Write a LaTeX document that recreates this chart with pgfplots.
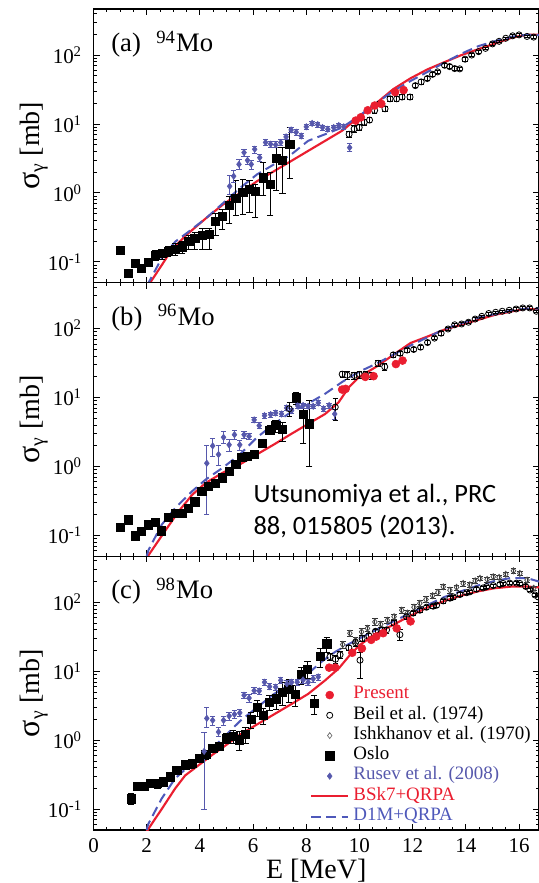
\documentclass[border=0pt]{standalone}
\usepackage{fontspec}
\setmainfont{Liberation Serif}
\newfontfamily\calibri{Carlito}
\usepackage{pgfplots}
\pgfplotsset{compat=1.18}

\definecolor{bskred}{RGB}{234,30,48}
\definecolor{rusblue}{RGB}{86,88,172}
\definecolor{dmblue}{RGB}{78,88,186}

\pgfplotsset{
  every axis/.append style={
    scale only axis, width=334.125pt, height=205.25pt,
    xmin=0, xmax=16.75, ymin=0.05, ymax=465,
    xtick={0,2,...,16}, minor x tick num=3,
    ytick={0.1,1,10,100},
    yticklabels={10\textsuperscript{-1},10\textsuperscript{0},10\textsuperscript{1},10\textsuperscript{2}},
    minor ytick={0.06,0.07,0.08,0.09,0.2,0.3,0.4,0.5,0.6,0.7,0.8,0.9,2,3,4,5,6,7,8,9,20,30,40,50,60,70,80,90,200,300,400},
    tick align=inside, major tick length=4.5pt, minor tick length=2.5pt,
    tick style={black, line width=0.7pt},
    axis line style={line width=0.9pt},
    tick label style={font=\fontsize{15.75}{18}\selectfont},
    yticklabel style={inner sep=0pt, anchor=east, xshift=-8.6pt},
    ylabel style={at={(axis description cs:0,0.5)}, anchor=base, yshift=40.5pt, font=\fontsize{21}{24}\selectfont},
  },
  osloplot/.style={only marks, mark=square*, mark size=3.1pt, black,
    error bars/y dir=both, error bars/y explicit,
    error bars/error bar style={line width=0.7pt, black},
    error bars/error mark options={rotate=90, mark size=2.4pt, line width=0.7pt, black}},
  rusevplot/.style={only marks, mark=diamond*, mark size=2.4pt, rusblue,
    error bars/y dir=both, error bars/y explicit,
    error bars/error bar style={line width=0.6pt, rusblue},
    error bars/error mark options={rotate=90, mark size=2pt, line width=0.6pt, rusblue}},
  beilplot/.style={only marks, mark=o, mark size=2.3pt, black, mark options={line width=0.6pt, fill=white},
    error bars/y dir=both, error bars/y explicit,
    error bars/error bar style={line width=0.6pt, black},
    error bars/error mark options={rotate=90, mark size=2pt, line width=0.6pt, black}},
  ishkplot/.style={only marks, mark=diamond, mark size=2.3pt, black!70, mark options={line width=0.6pt, fill=white},
    error bars/y dir=both, error bars/y explicit,
    error bars/error bar style={line width=0.6pt, black!80},
    error bars/error mark options={rotate=90, mark size=2.2pt, line width=0.6pt, black!80}},
  presentplot/.style={only marks, mark=*, mark size=3pt, bskred},
  bskplot/.style={bskred, line width=1.6pt, no marks},
  dmplot/.style={dmblue, line width=1.5pt, dash pattern=on 7.5pt off 4pt, no marks},
}

\begin{document}
\begin{tikzpicture}

% ---------------- (a) 94Mo ----------------
\begin{semilogyaxis}[at={(70.125pt,450.25pt)}, anchor=south west, xticklabels={},
  ylabel={{\fontsize{24}{24}\selectfont σ}\textsubscript{γ} [mb]}]
\addplot[bskplot] coordinates {(2.00,0.045) (2.13,0.050) (2.56,0.089) (2.94,0.150) (3.46,0.240) (4.23,0.43) (4.87,0.68) (5.51,1.0) (6.15,1.48) (6.79,2.07) (7.43,2.9) (8.07,4.07) (8.71,5.7) (9.35,8.0) (10.0,12.8) (10.63,20) (11.27,32) (11.92,46) (12.56,62) (13.20,79) (13.84,100) (14.48,122) (15.12,148) (15.76,180) (16.27,196) (16.75,198)};
\addplot[dmplot] coordinates {(2.00,0.045) (2.07,0.05) (2.56,0.112) (3.07,0.196) (3.58,0.275) (4.23,0.43) (4.87,0.71) (5.51,1.18) (6.15,1.86) (6.79,2.6) (7.43,3.6) (8.07,5.7) (8.71,7.1) (9.35,8.9) (10.0,13.2) (10.63,20) (11.27,30) (11.92,42) (12.56,57) (13.2,78) (13.84,105) (14.48,135) (15.12,160) (15.76,185) (16.27,196) (16.75,195)};
\addplot[osloplot] table[x=x, y=y, y error plus=ep, y error minus=em] {
x y ep em
1.02 0.148 0.012 0.012
1.30 0.068 0.006 0.006
1.56 0.095 0.008 0.008
1.79 0.080 0.010 0.010
2.07 0.100 0.012 0.012
2.33 0.125 0.020 0.020
2.58 0.132 0.022 0.022
2.81 0.143 0.025 0.025
3.07 0.154 0.030 0.030
3.33 0.166 0.035 0.035
3.58 0.200 0.045 0.050
3.81 0.220 0.050 0.070
4.10 0.245 0.060 0.095
4.35 0.250 0.060 0.100
4.58 0.390 0.120 0.150
4.84 0.455 0.120 0.160
5.10 0.66 0.22 0.30
5.35 0.83 0.70 0.36
5.61 1.03 0.55 0.55
5.86 1.12 0.40 0.60
6.08 1.06 0.25 0.62
6.38 1.66 1.10 0.75
6.64 1.32 0.65 0.85
6.87 3.18 1.40 2.10
7.11 2.97 1.60 2.00
7.38 5.10 3.70 3.50
};
\addplot[rusevplot] table[x=x, y=y, y error plus=ep, y error minus=em] {
x y ep em
5.12 1.25 0.55 0.30
5.27 1.75 0.40 0.35
5.47 2.60 0.45 0.40
5.66 3.85 0.50 0.50
5.79 2.97 0.40 0.40
5.93 2.60 0.40 0.40
6.06 4.30 0.50 0.50
6.25 3.25 0.40 0.40
6.47 5.40 0.50 0.50
6.66 5.10 0.50 0.50
6.85 5.00 0.50 0.50
7.04 5.40 0.50 0.50
7.24 6.50 0.60 0.60
7.43 8.20 0.70 0.70
7.62 7.60 0.70 0.70
7.81 6.70 0.60 0.60
8.00 9.10 0.80 0.80
8.22 10.2 0.80 0.80
8.43 9.80 0.80 0.80
8.61 8.90 0.70 0.70
8.81 8.40 0.70 0.70
9.03 8.90 0.70 0.70
9.22 9.50 0.70 0.70
9.41 9.10 0.70 0.70
9.63 4.55 0.60 0.60
};
\addplot[beilplot] table[x=x, y=y, y error=e] {
x y e
9.61 7.1 0.8
9.80 8.5 0.9
9.99 8.9 0.9
10.18 10.6 1.0
10.38 11.4 1.0
10.57 15.7 1.3
10.76 19.6 1.5
10.96 16.6 1.4
11.15 23.2 1.8
11.40 23.2 1.8
11.60 24.6 2.0
11.90 24.6 2.0
12.10 36 2.5
12.32 40.8 2.8
12.55 45.6 3.0
12.75 52.5 3.2
12.94 57 3.5
13.20 71 4
13.39 68 4
13.58 63.6 4
13.77 63 4
13.97 87 5
14.22 100 5
14.48 112 6
14.74 125 6
15.00 145 7
15.25 158 7
15.50 175 8
15.76 190 8
16.00 196 8
16.30 186 8
16.55 182 8
};
\addplot[presentplot] coordinates {(9.86,11.2) (10.05,12.5) (10.31,15.8) (10.57,18.5) (10.82,19.6) (11.34,29) (11.66,31)};
\node[anchor=base west, inner sep=0pt, font=\fontsize{20}{24}\selectfont] at (axis cs:0.66,112) {(a)\hspace{11.6pt}\raisebox{6.4pt}{\fontsize{14}{14}\selectfont 94}\hspace{0.8pt}Mo};
\end{semilogyaxis}

% ---------------- (b) 96Mo ----------------
\begin{semilogyaxis}[at={(70.125pt,245pt)}, anchor=south west, xticklabels={},
  ylabel={{\fontsize{24}{24}\selectfont σ}\textsubscript{γ} [mb]}]
\addplot[bskplot] coordinates {(2.00,0.045) (2.07,0.052) (2.68,0.115) (3.20,0.224) (3.71,0.39) (4.22,0.58) (4.87,0.82) (5.51,1.08) (6.15,1.51) (6.79,2.1) (7.43,2.97) (8.07,4.16) (8.71,5.8) (9.22,8.6) (9.61,14.3) (9.99,20) (10.63,28) (11.27,41.7) (11.92,62) (12.56,77) (13.20,97) (13.84,114) (14.48,135) (15.12,160) (15.76,179) (16.27,195) (16.75,188)};
\addplot[dmplot] coordinates {(2.00,0.05) (2.07,0.062) (2.56,0.143) (3.07,0.25) (3.71,0.44) (4.22,0.65) (4.87,0.97) (5.51,1.51) (6.15,2.66) (6.79,4.16) (7.43,6.2) (8.07,8.2) (8.71,11.4) (9.35,16.9) (9.99,23.8) (10.63,31) (11.92,57) (13.20,99) (14.48,145) (15.76,185) (16.27,195) (16.75,195)};
\addplot[osloplot] table[x=x, y=y, y error plus=ep, y error minus=em] {
x y ep em
1.02 0.131 0.012 0.012
1.30 0.170 0.012 0.012
1.56 0.099 0.008 0.008
1.79 0.115 0.010 0.010
2.07 0.143 0.012 0.012
2.33 0.155 0.012 0.012
2.56 0.117 0.010 0.010
2.81 0.184 0.015 0.015
3.07 0.212 0.015 0.015
3.33 0.212 0.015 0.015
3.56 0.250 0.020 0.020
3.81 0.310 0.025 0.025
4.07 0.440 0.035 0.035
4.32 0.520 0.040 0.040
4.58 0.570 0.045 0.045
4.84 0.690 0.050 0.050
5.10 0.860 0.060 0.060
5.35 1.080 0.080 0.080
5.57 1.350 0.100 0.100
5.79 1.430 0.100 0.100
6.04 1.510 0.120 0.120
6.35 2.170 0.250 0.250
6.63 3.400 0.500 0.500
6.85 3.930 0.800 0.800
7.11 3.500 0.900 1.200
7.62 10.0 2.0 2.0
7.88 5.8 2.5 3.6
8.11 4.2 4.9 3.2
};
\addplot[rusevplot] table[x=x, y=y, y error plus=ep, y error minus=em] {
x y ep em
4.26 1.12 0.90 0.92
4.48 2.00 0.60 0.60
4.70 1.50 0.50 0.45
4.89 2.66 0.55 0.50
5.10 2.07 0.40 0.40
5.30 2.90 0.40 0.40
5.50 2.07 0.35 0.35
5.66 2.90 0.35 0.35
5.85 2.75 0.30 0.30
6.04 4.76 0.40 0.40
6.23 3.93 0.40 0.40
6.43 5.50 0.50 0.50
6.66 5.70 0.50 0.50
6.85 6.00 0.50 0.50
7.07 5.80 0.50 0.50
7.26 7.10 0.60 0.60
7.45 6.50 0.60 0.60
7.68 7.60 0.60 0.60
7.88 7.70 0.60 0.60
8.07 7.50 0.60 0.60
8.26 7.50 0.60 0.60
8.45 8.40 0.70 0.70
8.65 6.90 0.60 0.60
8.86 7.70 0.60 0.60
9.07 5.80 1.00 1.00
};
\addplot[beilplot] table[x=x, y=y, y error=e] {
x y e
7.36 6.9 1.5
9.09 7.3 2.6
9.35 21.9 2.5
9.54 21.2 2.5
9.80 21.0 2.5
9.99 21.7 2.5
10.22 21.5 2.5
10.44 21.0 2.5
10.70 31.4 3
10.95 28.0 3
11.27 41.7 3
11.53 44.0 3
11.79 49 3
12.04 50 3
12.30 54 4
12.56 63 4
12.82 73 4
13.07 86 5
13.33 99 5
13.58 114 6
13.84 117 6
14.10 124 6
14.35 138 7
14.60 151 7
14.86 166 8
15.12 173 8
15.37 179 8
15.63 185 8
15.89 193 8
16.14 200 8
16.40 200 8
16.65 179 8
};
\addplot[presentplot] coordinates {(9.35,13.1) (9.48,13.4) (10.22,20.0) (10.53,20.5) (11.37,30.7) (11.62,34.5)};
\node[anchor=base west, inner sep=0pt, font=\fontsize{20}{24}\selectfont] at (axis cs:0.66,112) {(b)\hspace{11.6pt}\raisebox{6.4pt}{\fontsize{14}{14}\selectfont 96}\hspace{0.8pt}Mo};
\node[anchor=base west, inner sep=0pt, font=\calibri\fontsize{19.8}{24}\selectfont] at (axis cs:6.01,0.297) {Utsunomiya et al., PRC};
\node[anchor=base west, inner sep=0pt, font=\calibri\fontsize{19.8}{24}\selectfont] at (axis cs:6.01,0.102) {88, 015805 (2013).};
\end{semilogyaxis}

% ---------------- (c) 98Mo ----------------
\begin{semilogyaxis}[at={(70.125pt,39.75pt)}, anchor=south west,
  ylabel={{\fontsize{24}{24}\selectfont σ}\textsubscript{γ} [mb]},
  xticklabels={0,2,4,6,8,10,12,14,16},
  xticklabel style={inner sep=0pt, anchor=north, yshift=-6pt},
  xlabel={E [MeV]},
  xlabel style={at={(axis description cs:0.5,0)}, anchor=base, yshift=-36pt, font=\fontsize{21}{24}\selectfont},
  legend style={at={(axis cs:8.14,6.35)}, anchor=north west, draw=none, fill=none, inner sep=0pt, outer sep=0pt,
    font=\fontsize{14.2}{16}\selectfont,
    nodes={inner sep=0pt, text height=10.5pt, text depth=4.7pt},
    /tikz/every odd column/.append style={column sep=3pt}},
  legend cell align=left,
  legend image code/.code={\draw[mark repeat=2, mark phase=2, #1] plot coordinates {(0pt,0pt) (14pt,0pt) (28pt,0pt)};},
]
\addlegendimage{only marks, mark=*, mark size=3pt, bskred}
\addlegendentry{\textcolor{bskred}{Present}}
\addlegendimage{only marks, mark=o, mark size=2.3pt, black, mark options={line width=0.6pt}}
\addlegendentry{Beil et al. (1974)}
\addlegendimage{only marks, mark=diamond, mark size=2.2pt, black!60, mark options={line width=0.5pt}}
\addlegendentry{Ishkhanov et al. (1970)}
\addlegendimage{only marks, mark=square*, mark size=3.1pt, black}
\addlegendentry{Oslo}
\addlegendimage{only marks, mark=diamond*, mark size=2.4pt, rusblue}
\addlegendentry{\textcolor{rusblue}{Rusev et al. (2008)}}
\addlegendimage{bskred, line width=1.6pt}
\addlegendentry{\textcolor{bskred}{BSk7+QRPA}}
\addlegendimage{dmblue, line width=1.5pt, dash pattern=on 7.5pt off 4pt}
\addlegendentry{\textcolor{dmblue}{D1M+QRPA}}

\addplot[bskplot, forget plot] coordinates {(2.00,0.047) (2.05,0.051) (2.56,0.10) (3.07,0.20) (3.45,0.31) (3.97,0.44) (4.48,0.62) (5.00,0.86) (5.51,1.21) (6.15,1.70) (6.79,2.38) (7.43,3.33) (8.07,4.7) (8.71,7.4) (9.22,11) (9.60,16.5) (10.0,24) (10.63,35) (11.30,48) (11.95,65) (12.57,85) (13.20,105) (13.82,125) (14.48,145) (15.06,160) (15.76,170) (16.27,170) (16.75,165)};
\addplot[dmplot, forget plot] coordinates {(2.00,0.05) (2.05,0.06) (2.56,0.142) (3.07,0.28) (3.58,0.42) (4.22,0.62) (4.87,1.08) (5.51,1.9) (6.15,3.0) (6.79,4.7) (7.43,6.6) (8.07,9.3) (8.58,13.8) (9.09,19.2) (9.61,25) (10.63,40) (11.92,70) (13.20,120) (14.44,175) (15.10,205) (15.68,225) (16.30,225) (16.75,200)};
\addplot[ishkplot, forget plot] table[x=x, y=y, y error=e] {
x y e
9.37 24.5 3
9.64 35.6 4
9.85 28 3
10.08 37.4 4
10.30 42 4
10.58 52 6
10.80 48 5
11.05 55 6
11.30 62 6
11.59 77 8
11.80 70 7
12.05 85 8
12.27 97 9
12.50 110 10
12.75 125 11
12.95 140 12
13.15 168 14
13.40 150 13
13.65 165 14
13.90 188 15
14.15 180 15
14.35 205 16
14.53 223 18
14.80 215 17
15.03 235 18
15.25 230 18
15.50 255 20
15.79 287 22
16.03 263 20
16.30 210 17
16.55 160 13
};
\addplot[beilplot, forget plot] table[x=x, y=y, y error plus=ep, y error minus=em] {
x y ep em
8.89 16.3 2 2
9.10 15 2 2
9.27 17.4 2 2
9.60 22 2 2
9.85 26 3 3
10.02 14.5 4 6.5
10.10 30 3 3
10.35 33 3 3
10.60 38 3 3
10.85 40 4 4
11.02 40 4 4
11.30 50 4 4
11.52 34 6 6
11.77 62 5 5
12.02 70 5 5
12.27 77 6 6
12.52 85 6 6
12.77 88 6 6
12.90 91 6 6
13.15 105 7 7
13.40 115 7 7
13.53 120 8 8
13.78 130 8 8
14.03 138 8 8
14.15 142 8 8
14.40 155 9 9
14.65 162 9 9
14.78 169 9 9
15.03 175 10 10
15.28 182 10 10
15.40 188 10 10
15.65 190 10 10
15.90 190 10 10
16.03 188 10 10
16.25 170 10 10
16.41 151 9 9
16.60 128 8 8
16.72 120 8 8
};
\addplot[osloplot, forget plot] table[x=x, y=y, y error plus=ep, y error minus=em] {
x y ep em
1.41 0.142 0.025 0.025
1.66 0.218 0.03 0.03
1.92 0.218 0.03 0.03
2.15 0.236 0.03 0.03
2.40 0.236 0.035 0.035
2.62 0.250 0.035 0.035
2.88 0.296 0.04 0.04
3.13 0.37 0.05 0.05
3.45 0.44 0.06 0.06
3.71 0.46 0.07 0.07
3.97 0.55 0.08 0.08
4.22 0.62 0.09 0.09
4.48 0.77 0.10 0.10
4.74 0.82 0.12 0.12
5.00 1.08 0.18 0.18
5.25 1.15 0.25 0.25
5.48 1.02 0.30 0.30
5.71 1.21 0.30 0.30
5.92 2.0 0.5 0.5
6.15 3.0 0.8 0.8
6.38 2.3 0.6 0.6
6.62 3.6 0.9 0.9
6.87 4.0 1.2 1.2
7.11 5.0 1.8 1.8
7.34 5.5 2.0 2.0
7.58 4.7 1.6 1.6
7.81 9.0 2.5 2.5
8.04 10.8 3.0 3.0
8.30 3.4 1.0 1.0
8.52 16.5 5.0 5.0
8.77 25 6 6
};
\addplot[rusevplot, forget plot] table[x=x, y=y, y error plus=ep, y error minus=em] {
x y ep em
4.16 0.69 0.60 0.59
4.26 2.08 0.90 0.55
4.48 1.95 0.30 0.30
4.70 1.32 0.20 0.20
4.89 1.95 0.30 0.30
5.10 2.25 0.30 0.30
5.30 2.38 0.30 0.30
5.50 2.50 0.30 0.30
5.66 4.50 0.50 0.50
5.85 4.10 0.50 0.50
6.04 5.25 0.50 0.50
6.23 5.20 0.50 0.50
6.43 6.95 0.60 0.60
6.62 6.00 0.60 0.60
6.85 5.90 0.60 0.60
7.04 7.40 0.70 0.70
7.27 6.60 0.70 0.70
7.45 6.95 0.70 0.70
7.66 6.95 0.70 0.70
7.88 7.50 0.80 0.80
8.07 6.95 0.70 0.70
8.26 7.80 0.80 0.80
8.45 8.30 0.80 0.80
};
\addplot[presentplot, forget plot] coordinates {(8.86,11.3) (9.09,11.3) (9.73,18.6) (10.09,21.5) (10.44,28.6) (10.63,31.9) (10.89,35.7) (11.40,42) (11.92,53)};
\node[anchor=base west, inner sep=0pt, font=\fontsize{20}{24}\selectfont] at (axis cs:0.66,112) {(c)\hspace{11.6pt}\raisebox{6.4pt}{\fontsize{14}{14}\selectfont 98}\hspace{0.8pt}Mo};
\end{semilogyaxis}

\pgfresetboundingbox
\path (0,0) rectangle (404.25pt,662.25pt);
\end{tikzpicture}
\end{document}
